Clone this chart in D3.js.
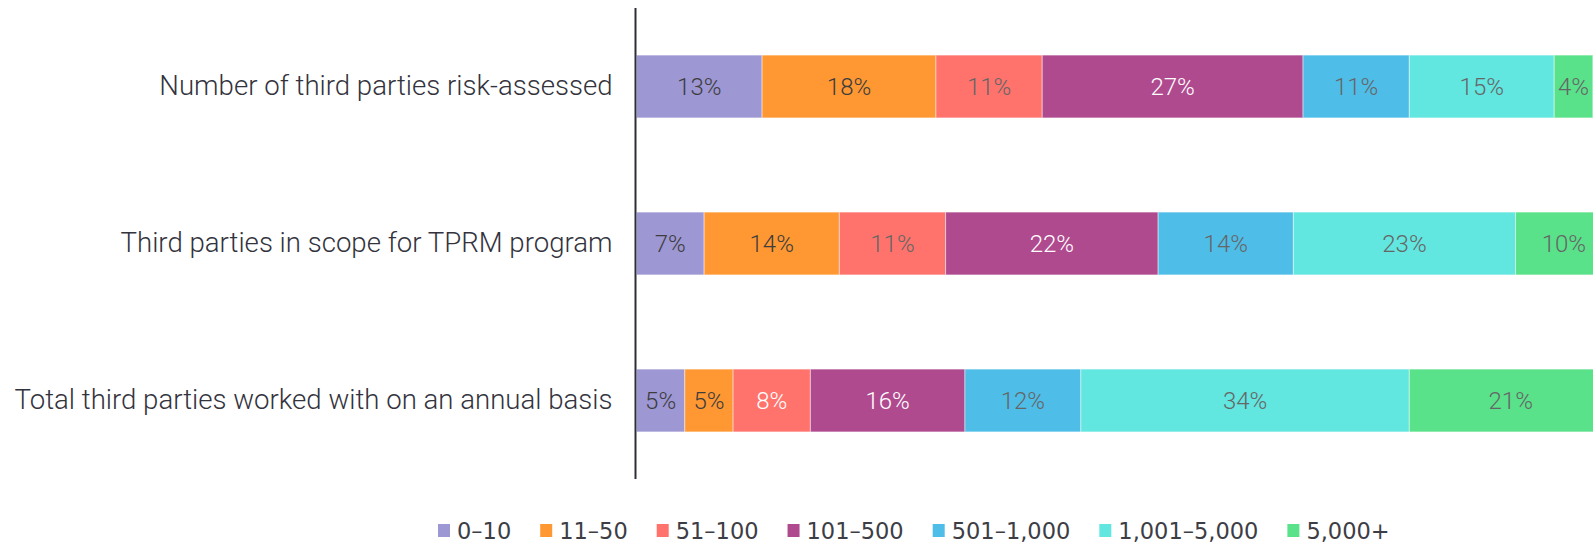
<!DOCTYPE html>
<html>
<head>
<meta charset="utf-8">
<script src="https://cdn.jsdelivr.net/npm/d3@7"></script>
<style>
  html, body { margin: 0; padding: 0; background: #fff; overflow: hidden; }
  svg { display: block; }
</style>
</head>
<body>
<svg id="chart" width="1593" height="543"></svg>
<script>
// Third-party counts by band, share of respondents (%)
const categories = [
  "Number of third parties risk-assessed",
  "Third parties in scope for TPRM program",
  "Total third parties worked with on an annual basis"
];
const bands = ["0–10", "11–50", "51–100", "101–500", "501–1,000", "1,001–5,000", "5,000+"];
const riskAssessed = [13, 18, 11, 27, 11, 15, 4];
const inScope      = [7, 14, 11, 22, 14, 23, 10];
const totalAnnual  = [5, 5, 8, 16, 12, 34, 21];
const seriesValues = [riskAssessed, inScope, totalAnnual];

// Styling
const bandColors = ["#9d97d4", "#ff9833", "#ff736c", "#b04a8f", "#4ebee9", "#61e6e0", "#59e28a"];
const dark = "#3d3d3d", grey = "#666666", white = "#ffffff";
const labelColors = [
  [dark, dark, grey, white, grey, grey, grey],
  [dark, dark, grey, white, grey, grey, grey],
  [dark, dark, white, white, grey, grey, grey]
];

const svg = d3.select("#chart");
const x0 = 636.5;
const x = d3.scaleLinear().domain([0, 100]).range([x0, x0 + 966]);
const y = d3.scaleBand().domain(categories).range([8, 479])
  .paddingInner(0.6).paddingOuter(0.3);

// Build stacked rows
const rows = categories.map((c, i) => {
  let acc = 0;
  return seriesValues[i].map((v, j) => {
    const seg = { cat: c, row: i, band: j, value: v, x0: acc, x1: acc + v };
    acc += v;
    return seg;
  });
});

const segs = rows.flat();

svg.append("g").selectAll("rect")
  .data(segs)
  .join("rect")
  .attr("x", d => x(d.x0))
  .attr("y", d => y(d.cat))
  .attr("width", d => x(d.x1) - x(d.x0))
  .attr("height", y.bandwidth())
  .attr("fill", d => bandColors[d.band])
  .attr("stroke", "rgba(255,255,255,0.45)")
  .attr("stroke-width", 1);

svg.append("g").selectAll("text")
  .data(segs)
  .join("text")
  .attr("x", d => (x(d.x0) + x(d.x1)) / 2)
  .attr("y", d => y(d.cat) + y.bandwidth() / 2)
  .attr("dy", "0.35em")
  .attr("text-anchor", "middle")
  .attr("font-family", "Roboto, sans-serif")
  .attr("font-weight", 300)
  .attr("font-size", 24)
  .attr("fill", d => labelColors[d.row][d.band])
  .text(d => d.value + "%");

// Category axis
const yAxis = svg.append("g")
  .attr("transform", `translate(${x0 - 1},0)`)
  .call(d3.axisLeft(y).tickSize(0).tickPadding(23));
yAxis.select(".domain")
  .attr("d", "M0,8V479")
  .attr("stroke", "#2e2e38")
  .attr("stroke-width", 2);
yAxis.selectAll(".tick text")
  .attr("font-family", "Roboto, sans-serif")
  .attr("font-weight", 300)
  .attr("font-size", 27.6)
  .attr("fill", "#33333d");

// Legend
const legend = svg.append("g");
let lx = 0;
bands.forEach((b, i) => {
  const g = legend.append("g").attr("transform", `translate(${lx},0)`);
  g.append("rect").attr("x", 0).attr("y", 524).attr("width", 12).attr("height", 13)
    .attr("fill", bandColors[i]);
  const t = g.append("text").attr("x", 19).attr("y", 538.5)
    .attr("font-family", "'DejaVu Sans', sans-serif")
    .attr("font-size", 22.5)
    .attr("fill", "#3d3d45")
    .text(b);
  lx += 19 + t.node().getComputedTextLength() + 29;
});
legend.attr("transform", `translate(438,0)`);
</script>
</body>
</html>
